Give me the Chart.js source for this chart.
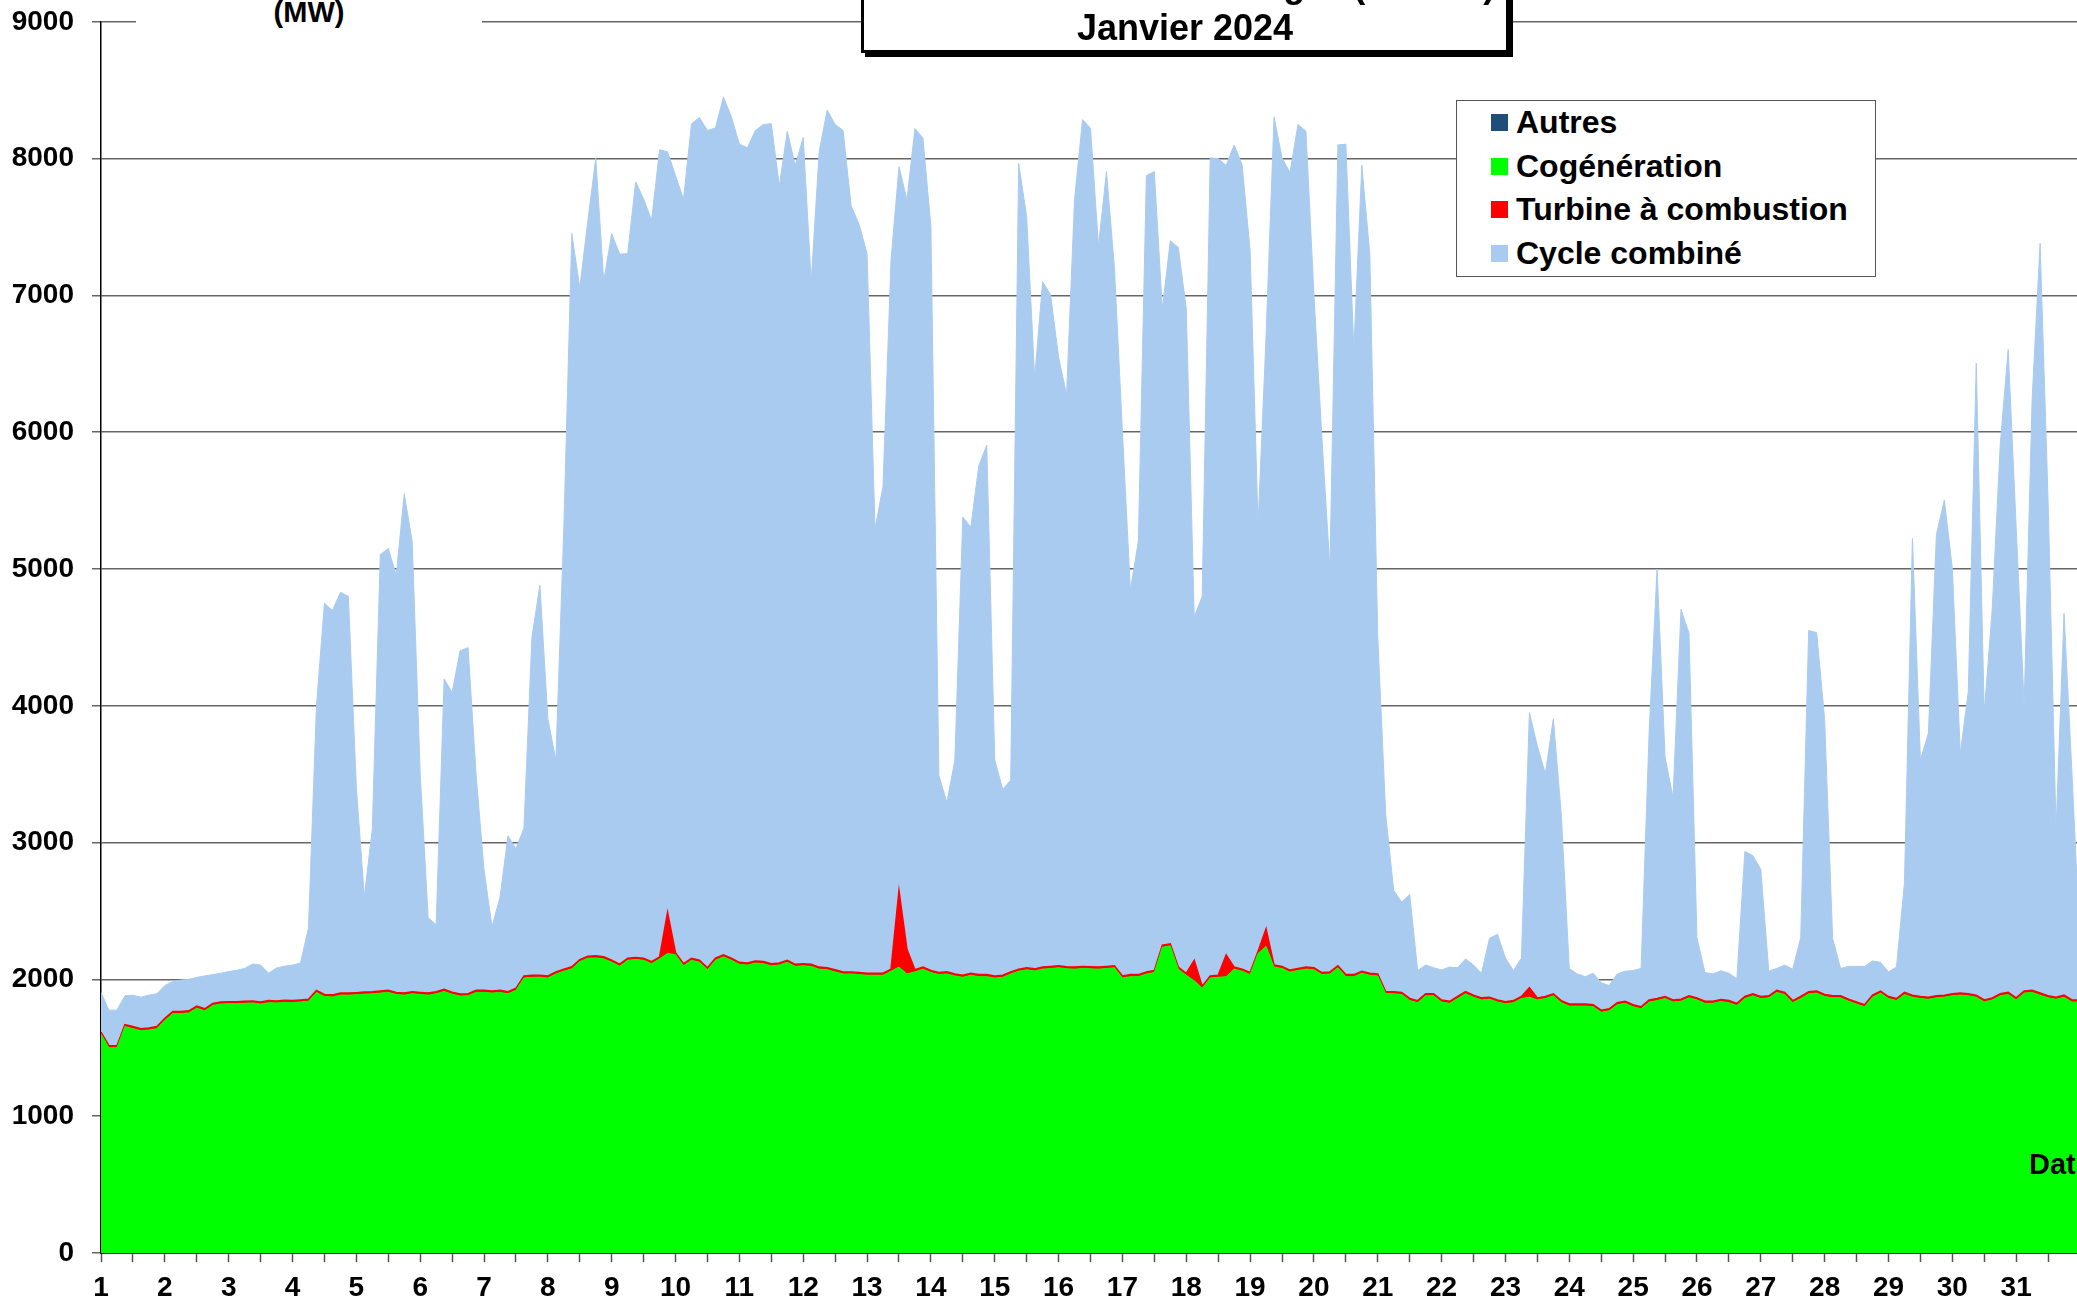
<!DOCTYPE html>
<html>
<head>
<meta charset="utf-8">
<title>Production gaz - Janvier 2024</title>
<script src="https://cdn.jsdelivr.net/npm/chart.js"></script>
<style>
  html, body { margin: 0; padding: 0; width: 2077px; height: 1303px; overflow: hidden; background: #fff; }
  body { font-family: 'Liberation Sans', Arial, sans-serif; font-weight: bold; color: #000; }
  #wrap { position: relative; width: 2077px; height: 1303px; overflow: hidden; }
  #myChart { position: absolute; left: 0; top: -13px; }
  .titleBox { position: absolute; left: 861px; top: -60px; width: 648px; height: 113px; box-sizing: border-box;
              border: 3px solid #000; background: #fff; box-shadow: 4px 4px 0 #000; }
  .titleBox .txt { position: absolute; left: 0; right: 0; bottom: 1px; text-align: center; font-size: 36px;
                   line-height: 43px; white-space: nowrap; }
  .unit { position: absolute; left: 136px; top: 0; width: 346px; height: 34px; background: #fff; text-align: center;
          font-size: 29px; line-height: 24px; }
  .dateLbl { position: absolute; left: 2029px; top: 1150px; font-size: 29px; line-height: 29px; white-space: nowrap; }
  .legend { position: absolute; left: 1456px; top: 100px; width: 420px; height: 177px; box-sizing: border-box;
            border: 1.5px solid #555; background: #fff; }
  .legend .row { position: relative; height: 43.5px; line-height: 43.5px; font-size: 32px; white-space: nowrap; }
  .legend .box { position: absolute; left: 34px; top: 13px; width: 17px; height: 17px; }
  .legend .lbl { position: absolute; left: 59px; top: 0; }
</style>
</head>
<body>
<div id="wrap">
  <canvas id="myChart" width="2100" height="1316"></canvas>
  <div class="unit">(MW)</div>
  <div class="titleBox"><div class="txt">Production d'électricité gaz (France)<br>Janvier 2024</div></div>
  <div class="legend" id="legend"></div>
  <div class="dateLbl">Date</div>
</div>
<script>
// one value every 3 hours, from 1 Jan 00h to 1 Feb 00h
const startDay = 1;
const stepHours = 3;

const dayLabels = [1, 2, 3, 4, 5, 6, 7, 8, 9, 10, 11, 12, 13, 14, 15, 16,
  17, 18, 19, 20, 21, 22, 23, 24, 25, 26, 27, 28, 29, 30, 31];

const seriesNames = ['Autres', 'Cogénération', 'Turbine à combustion', 'Cycle combiné'];
const seriesColors = ['#1F4E79', '#00FF00', '#FF0000', '#A9CBF0'];

const cogeneration = [
  1600, 1500, 1500, 1655, 1640, 1625, 1630, 1640,
  1700, 1750, 1750, 1755, 1790, 1770, 1810, 1820,
  1822, 1822, 1825, 1828, 1820, 1830, 1828, 1832,
  1830, 1835, 1840, 1905, 1875, 1872, 1885, 1885,
  1888, 1892, 1895, 1900, 1905, 1890, 1885, 1895,
  1890, 1885, 1895, 1912, 1892, 1878, 1880, 1905,
  1905, 1900, 1905, 1895, 1920, 2010, 2015, 2016,
  2010, 2040, 2060, 2077, 2130, 2155, 2157, 2150,
  2126, 2097, 2140, 2145, 2140, 2115, 2150, 2190,
  2180, 2100, 2140, 2125, 2070, 2140, 2165, 2140,
  2110, 2105, 2120, 2115, 2100, 2105, 2125, 2095,
  2100, 2095, 2075, 2070, 2055, 2040, 2040, 2035,
  2030, 2030, 2030, 2060, 2090, 2040, 2055, 2075,
  2050, 2035, 2040, 2025, 2015, 2030, 2020, 2020,
  2010, 2015, 2040, 2060, 2070, 2062, 2075, 2080,
  2085, 2078, 2075, 2080, 2077, 2075, 2080, 2085,
  2010, 2020, 2020, 2040, 2050, 2235, 2245, 2075,
  2030, 1990, 1935, 2010, 2015, 2020, 2075, 2060,
  2035, 2190, 2240, 2090, 2080, 2053, 2065, 2075,
  2070, 2035, 2040, 2085, 2020, 2020, 2045, 2030,
  2025, 1895, 1895, 1890, 1846, 1830, 1880, 1880,
  1834, 1825, 1860, 1895, 1870, 1850, 1855, 1835,
  1822, 1830, 1860, 1870, 1850, 1860, 1880, 1830,
  1805, 1805, 1805, 1800, 1760, 1770, 1815, 1825,
  1800, 1785, 1834, 1845, 1860, 1835, 1840, 1865,
  1850, 1825, 1825, 1838, 1830, 1810, 1860, 1880,
  1860, 1865, 1905, 1890, 1830, 1860, 1895, 1900,
  1875, 1865, 1865, 1840, 1820, 1800, 1870, 1900,
  1860, 1845, 1890, 1870, 1860, 1855, 1865, 1870,
  1880, 1885, 1880, 1870, 1835, 1850, 1880, 1890,
  1850, 1900, 1905, 1885, 1865, 1855, 1870, 1835,
  1835
];

const turbineCombustion = [
  15, 15, 15, 15, 15, 15, 15, 15,
  15, 15, 15, 15, 15, 15, 15, 15,
  15, 15, 15, 15, 15, 15, 15, 15,
  15, 15, 15, 15, 15, 15, 15, 15,
  15, 15, 15, 15, 15, 15, 15, 15,
  15, 15, 15, 15, 15, 15, 15, 15,
  15, 15, 15, 15, 15, 15, 15, 15,
  15, 15, 15, 15, 15, 15, 15, 15,
  15, 15, 15, 15, 15, 15, 15, 300,
  15, 15, 15, 15, 15, 15, 15, 15,
  15, 15, 15, 15, 15, 15, 15, 15,
  15, 15, 15, 15, 15, 15, 15, 15,
  15, 15, 15, 15, 560, 180, 15, 15,
  15, 15, 15, 15, 15, 15, 15, 15,
  15, 15, 15, 15, 15, 15, 15, 15,
  15, 15, 15, 15, 15, 15, 15, 15,
  15, 15, 15, 15, 15, 15, 15, 15,
  15, 150, 15, 15, 15, 160, 15, 15,
  15, 15, 130, 15, 15, 15, 15, 15,
  15, 15, 15, 15, 15, 15, 15, 15,
  15, 15, 15, 15, 15, 15, 15, 15,
  15, 15, 15, 15, 15, 15, 15, 15,
  15, 15, 15, 70, 15, 15, 15, 15,
  15, 15, 15, 15, 15, 15, 15, 15,
  15, 15, 15, 15, 15, 15, 15, 15,
  15, 15, 15, 15, 15, 15, 15, 15,
  15, 15, 15, 15, 15, 15, 15, 15,
  15, 15, 15, 15, 15, 15, 15, 15,
  15, 15, 15, 15, 15, 15, 15, 15,
  15, 15, 15, 15, 15, 15, 15, 15,
  15, 15, 15, 15, 15, 15, 15, 15,
  15
];

const cycleCombine = [
  290, 260, 260, 210, 230, 230, 240, 240,
  240, 220, 230, 230, 210, 240, 210, 210,
  220, 230, 240, 270, 270, 200, 240, 250,
  260, 270, 520, 2080, 2860, 2810, 2930, 2900,
  1500, 700, 1190, 3190, 3230, 3050, 3650, 3290,
  1600, 550, 490, 2270, 2190, 2510, 2530, 1580,
  880, 470, 680, 1140, 1020, 1080, 2470, 2850,
  1880, 1550, 3230, 5360, 4910, 5370, 5830, 4940,
  5310, 5190, 5150, 5670, 5550, 5420, 5900, 5560,
  5680, 5590, 6100, 6160, 6120, 6070, 6270, 6150,
  5980, 5960, 6070, 6120, 6140, 5680, 6060, 5840,
  6040, 4990, 5960, 6270, 6180, 6150, 5600, 5470,
  5260, 3250, 3560, 5180, 5290, 5480, 6150, 6060,
  5440, 1440, 1240, 1560, 3350, 3260, 3720, 3870,
  1580, 1360, 1400, 5890, 5490, 4320, 5010, 4910,
  4450, 4180, 5610, 6190, 6130, 5270, 5810, 5100,
  3980, 2810, 3170, 5820, 5840, 4650, 5140, 5260,
  4860, 2510, 2850, 5980, 5970, 5770, 6010, 5880,
  5280, 3120, 4330, 6200, 5910, 5830, 6170, 6110,
  4920, 3910, 2950, 6000, 6070, 4570, 5890, 5260,
  2460, 1290, 740, 660, 760, 220, 210, 190,
  220, 250, 210, 240, 220, 180, 430, 480,
  320, 220, 280, 2010, 1840, 1630, 2010, 1360,
  260, 220, 200, 230, 200, 170, 210, 220,
  250, 280, 1950, 3140, 1750, 1480, 2850, 2650,
  440, 210, 200, 210, 200, 180, 1060, 1010,
  930, 180, 160, 200, 230, 430, 2640, 2620,
  2010, 420, 200, 240, 260, 280, 250, 210,
  180, 230, 800, 3340, 1730, 1930, 3370, 3620,
  3110, 1750, 2210, 4620, 2100, 2840, 4010, 4700,
  3440, 2090, 4320, 5480, 3620, 1230, 2790, 1650,
  400
];

const times = cogeneration.map((v, i) => startDay + i * stepHours / 24);

function points(values) {
  return values.map((v, i) => ({ x: times[i], y: v }));
}

// legend box, same order as the original
const legend = document.getElementById('legend');
seriesNames.forEach((name, i) => {
  const row = document.createElement('div');
  row.className = 'row';
  row.innerHTML = '<span class="box" style="background:' + seriesColors[i] + '"></span>' +
    '<span class="lbl">' + name + '</span>';
  legend.appendChild(row);
});

const ctx = document.getElementById('myChart');
const tickFont = { family: "'Liberation Sans', Arial, sans-serif", size: 28, weight: 'bold' };

new Chart(ctx, {
  type: 'line',
  data: {
    datasets: [
      {
        label: seriesNames[1],
        data: points(cogeneration),
        backgroundColor: seriesColors[1],
        borderColor: seriesColors[1],
        borderWidth: 1,
        fill: 'origin',
      },
      {
        label: seriesNames[2],
        data: points(turbineCombustion),
        backgroundColor: seriesColors[2],
        borderColor: seriesColors[2],
        borderWidth: 1.5,
        fill: '-1',
      },
      {
        label: seriesNames[3],
        data: points(cycleCombine),
        backgroundColor: seriesColors[3],
        borderColor: seriesColors[3],
        borderWidth: 1,
        fill: '-1',
      },
    ],
  },
  options: {
    responsive: false,
    animation: false,
    layout: { padding: { top: 20, right: 20, left: 0, bottom: 0 } },
    elements: {
      line: { tension: 0 },
      point: { radius: 0, hitRadius: 0 },
    },
    plugins: {
      legend: { display: false },
      tooltip: { enabled: false },
    },
    scales: {
      x: {
        type: 'linear',
        min: 1,
        max: 32,
        afterFit: function (scale) { scale.height = 50; },
        ticks: {
          stepSize: 0.5,
          autoSkip: false,
          maxRotation: 0,
          padding: 9,
          color: '#000',
          font: tickFont,
          callback: function (value) {
            return dayLabels.includes(value) ? String(value) : '';
          },
        },
        grid: { drawOnChartArea: false, tickLength: 9, tickColor: '#555', tickWidth: 1.5 },
        border: { color: '#2a2a2a', width: 2 },
      },
      y: {
        stacked: true,
        min: 0,
        max: 9000,
        afterFit: function (scale) { scale.width = 101; },
        ticks: {
          stepSize: 1000,
          padding: 18,
          color: '#000',
          font: tickFont,
          callback: function (value) { return String(value); },
        },
        grid: { color: '#666', lineWidth: 1.5, tickLength: 9, tickColor: '#666', tickWidth: 1.5 },
        border: { color: '#000', width: 1.5 },
      },
    },
  },
});
</script>
</body>
</html>
